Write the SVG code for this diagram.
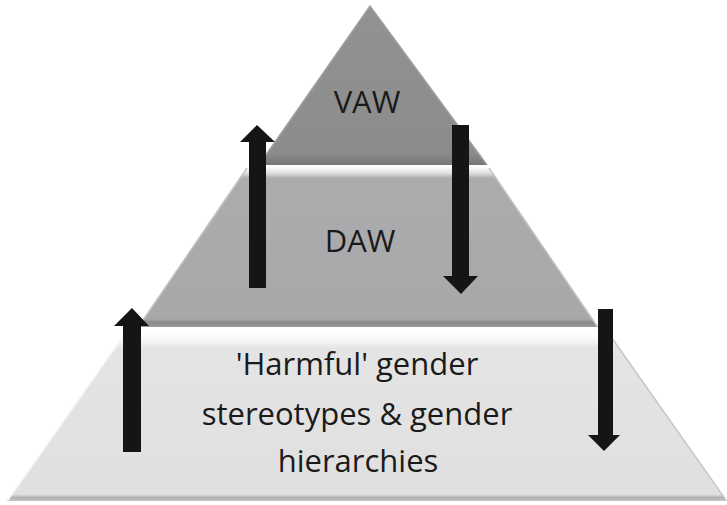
<svg xmlns="http://www.w3.org/2000/svg" width="727" height="505" viewBox="0 0 727 505">
<style>
.lbl{font-family:"Open Sans","Liberation Sans",sans-serif;font-size:31px;fill:#1a1a1a;text-anchor:middle}
.arrow{fill:#151515}
</style>
<defs>
<linearGradient id="gTop" x1="0" y1="0" x2="0" y2="1">
<stop offset="0" stop-color="#929292"/><stop offset="0.92" stop-color="#8c8c8c"/><stop offset="1" stop-color="#777777"/>
</linearGradient>
<linearGradient id="gMid" x1="0" y1="0" x2="0" y2="1">
<stop offset="0" stop-color="#ffffff"/><stop offset="0.04" stop-color="#dcdcdd"/><stop offset="0.07" stop-color="#acacae"/><stop offset="0.95" stop-color="#a8a8aa"/><stop offset="0.97" stop-color="#8a8a8a"/><stop offset="1" stop-color="#9a9a9a"/>
</linearGradient>
<linearGradient id="gBot" x1="0" y1="0" x2="0" y2="1">
<stop offset="0" stop-color="#ffffff"/><stop offset="0.05" stop-color="#f4f4f4"/><stop offset="0.09" stop-color="#e4e4e4"/><stop offset="0.96" stop-color="#e0e0e0"/><stop offset="0.98" stop-color="#b0b0b0"/><stop offset="1" stop-color="#c8c8c8"/>
</linearGradient>
</defs>
<g id="layer-top">
<polygon points="370,6 487,165 259,165" fill="url(#gTop)"/>
<polyline points="259,165 370,6 487,165" fill="none" stroke="#a0a0a0" stroke-width="1.5"/>
<text class="lbl" x="367" y="113">VAW</text>
</g>
<g id="layer-middle">
<polygon points="247,167 489,167 598,327 138,327" fill="url(#gMid)"/>
<line x1="247" y1="168" x2="139" y2="326" stroke="#c4c4c4" stroke-width="1.5"/>
<line x1="489" y1="168" x2="597" y2="326" stroke="#c4c4c4" stroke-width="1.5"/>
<text class="lbl" x="360" y="252">DAW</text>
</g>
<g id="layer-bottom">
<polygon points="125,333 609,333 727,501 7,501" fill="url(#gBot)"/>
<line x1="125" y1="334" x2="8" y2="500" stroke="#f6f6f6" stroke-width="1.5"/>
<line x1="609" y1="334" x2="726" y2="500" stroke="#c8c8c8" stroke-width="1.5"/>
<text class="lbl" x="357" y="375">'Harmful' gender</text>
<text class="lbl" x="357" y="425">stereotypes &amp; gender</text>
<text class="lbl" x="358" y="472">hierarchies</text>
</g>
<g id="connectors">
<polygon class="arrow" points="257,125 275,142 266,142 266,288 249,288 249,142 240,142"/>
<polygon class="arrow" points="452,125 469,125 469,276 478,276 461,294 443,276 452,276"/>
<polygon class="arrow" points="132,308 149,326 141,326 141,452 123,452 123,326 114,326"/>
<polygon class="arrow" points="598,309 613,309 613,435 620,435 604,451 588,435 598,435"/>
</g>
</svg>
